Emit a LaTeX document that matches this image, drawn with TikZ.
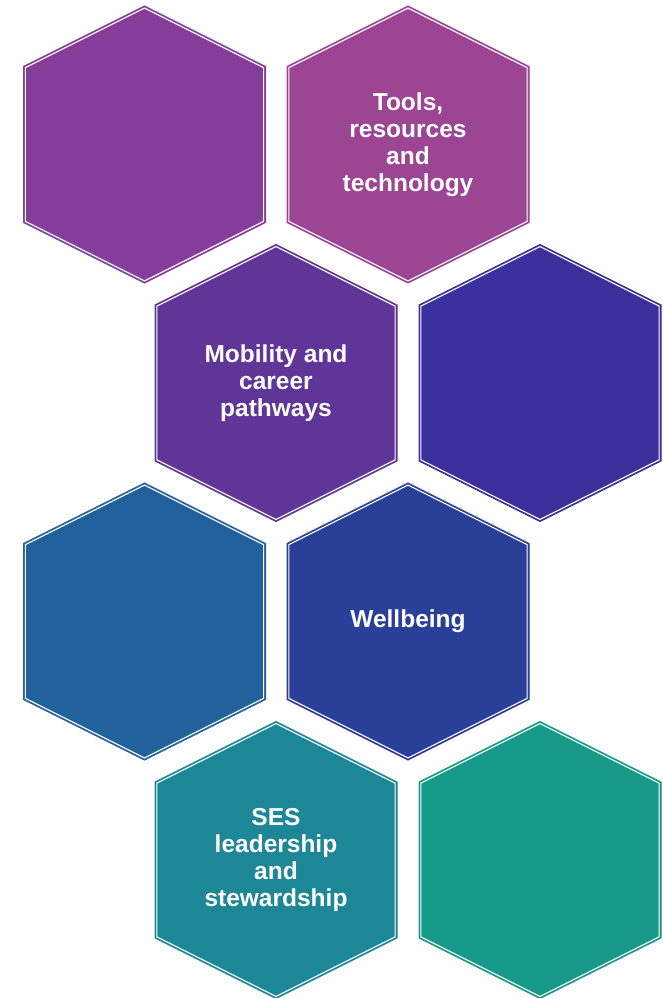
\documentclass[tikz,border=0pt]{standalone}
\usepackage{fontspec}
\setmainfont{Liberation Sans}
\usetikzlibrary{positioning}

\definecolor{hexplum}{HTML}{843E9A}
\definecolor{hexorchid}{HTML}{9B4593}
\definecolor{hexviolet}{HTML}{5F3698}
\definecolor{hexindigo}{HTML}{3A2F9B}
\definecolor{hexsteel}{HTML}{22619B}
\definecolor{hexnavy}{HTML}{293F98}
\definecolor{hexteal}{HTML}{1E8797}
\definecolor{hexjade}{HTML}{179A87}

\tikzset{
    hexlabel/.style={text=white, align=center, font=\bfseries\fontsize{24.5}{27}\selectfont}
}

\begin{document}
\begin{tikzpicture}[x=1pt,y=-1pt]
    % Hexagon parameters
    \def\w{121} % half width
    \def\h{138.5} % half height (top and bottom vertex)
    \def\s{78} % half length of the vertical sides
    \def\k{0.985} % scale of the inner white outline

    \useasboundingbox (0,0) rectangle (662,998);

    % Centres of the hexagons
    \coordinate (P1) at (144.5,144.5);
    \coordinate (P2) at (408,144.5);
    \coordinate (P3) at (276,383);
    \coordinate (P4) at (540,383);
    \coordinate (P5) at (144.5,621.5);
    \coordinate (P6) at (408,621.5);
    \coordinate (P7) at (276,860);
    \coordinate (P8) at (540,860);

    % Draw the hexagons with a white inner outline
    \foreach \c/\col in {P1/hexplum, P2/hexorchid, P3/hexviolet, P4/hexindigo,
                         P5/hexsteel, P6/hexnavy, P7/hexteal, P8/hexjade} {
        \filldraw[fill=\col, draw=\col, line width=1pt, shift={(\c)}]
            (0,-\h) -- (\w,-\s) -- (\w,\s) -- (0,\h) -- (-\w,\s) -- (-\w,-\s) -- cycle;
        \draw[white, line width=1.1pt, line join=miter, shift={(\c)}, scale=\k]
            (0,-\h) -- (\w,-\s) -- (\w,\s) -- (0,\h) -- (-\w,\s) -- (-\w,-\s) -- cycle;
    }

    % Labels
    \node[hexlabel] (tools) at (P2) {Tools,\\resources\\and\\technology};
    \node[hexlabel] (mobility) at (P3) {Mobility and\\career\\pathways};
    \node[hexlabel] (wellbeing) at (P6) {Wellbeing};
    \node[hexlabel] (ses) at (P7) {SES\\leadership\\and\\stewardship};
\end{tikzpicture}
\end{document}
